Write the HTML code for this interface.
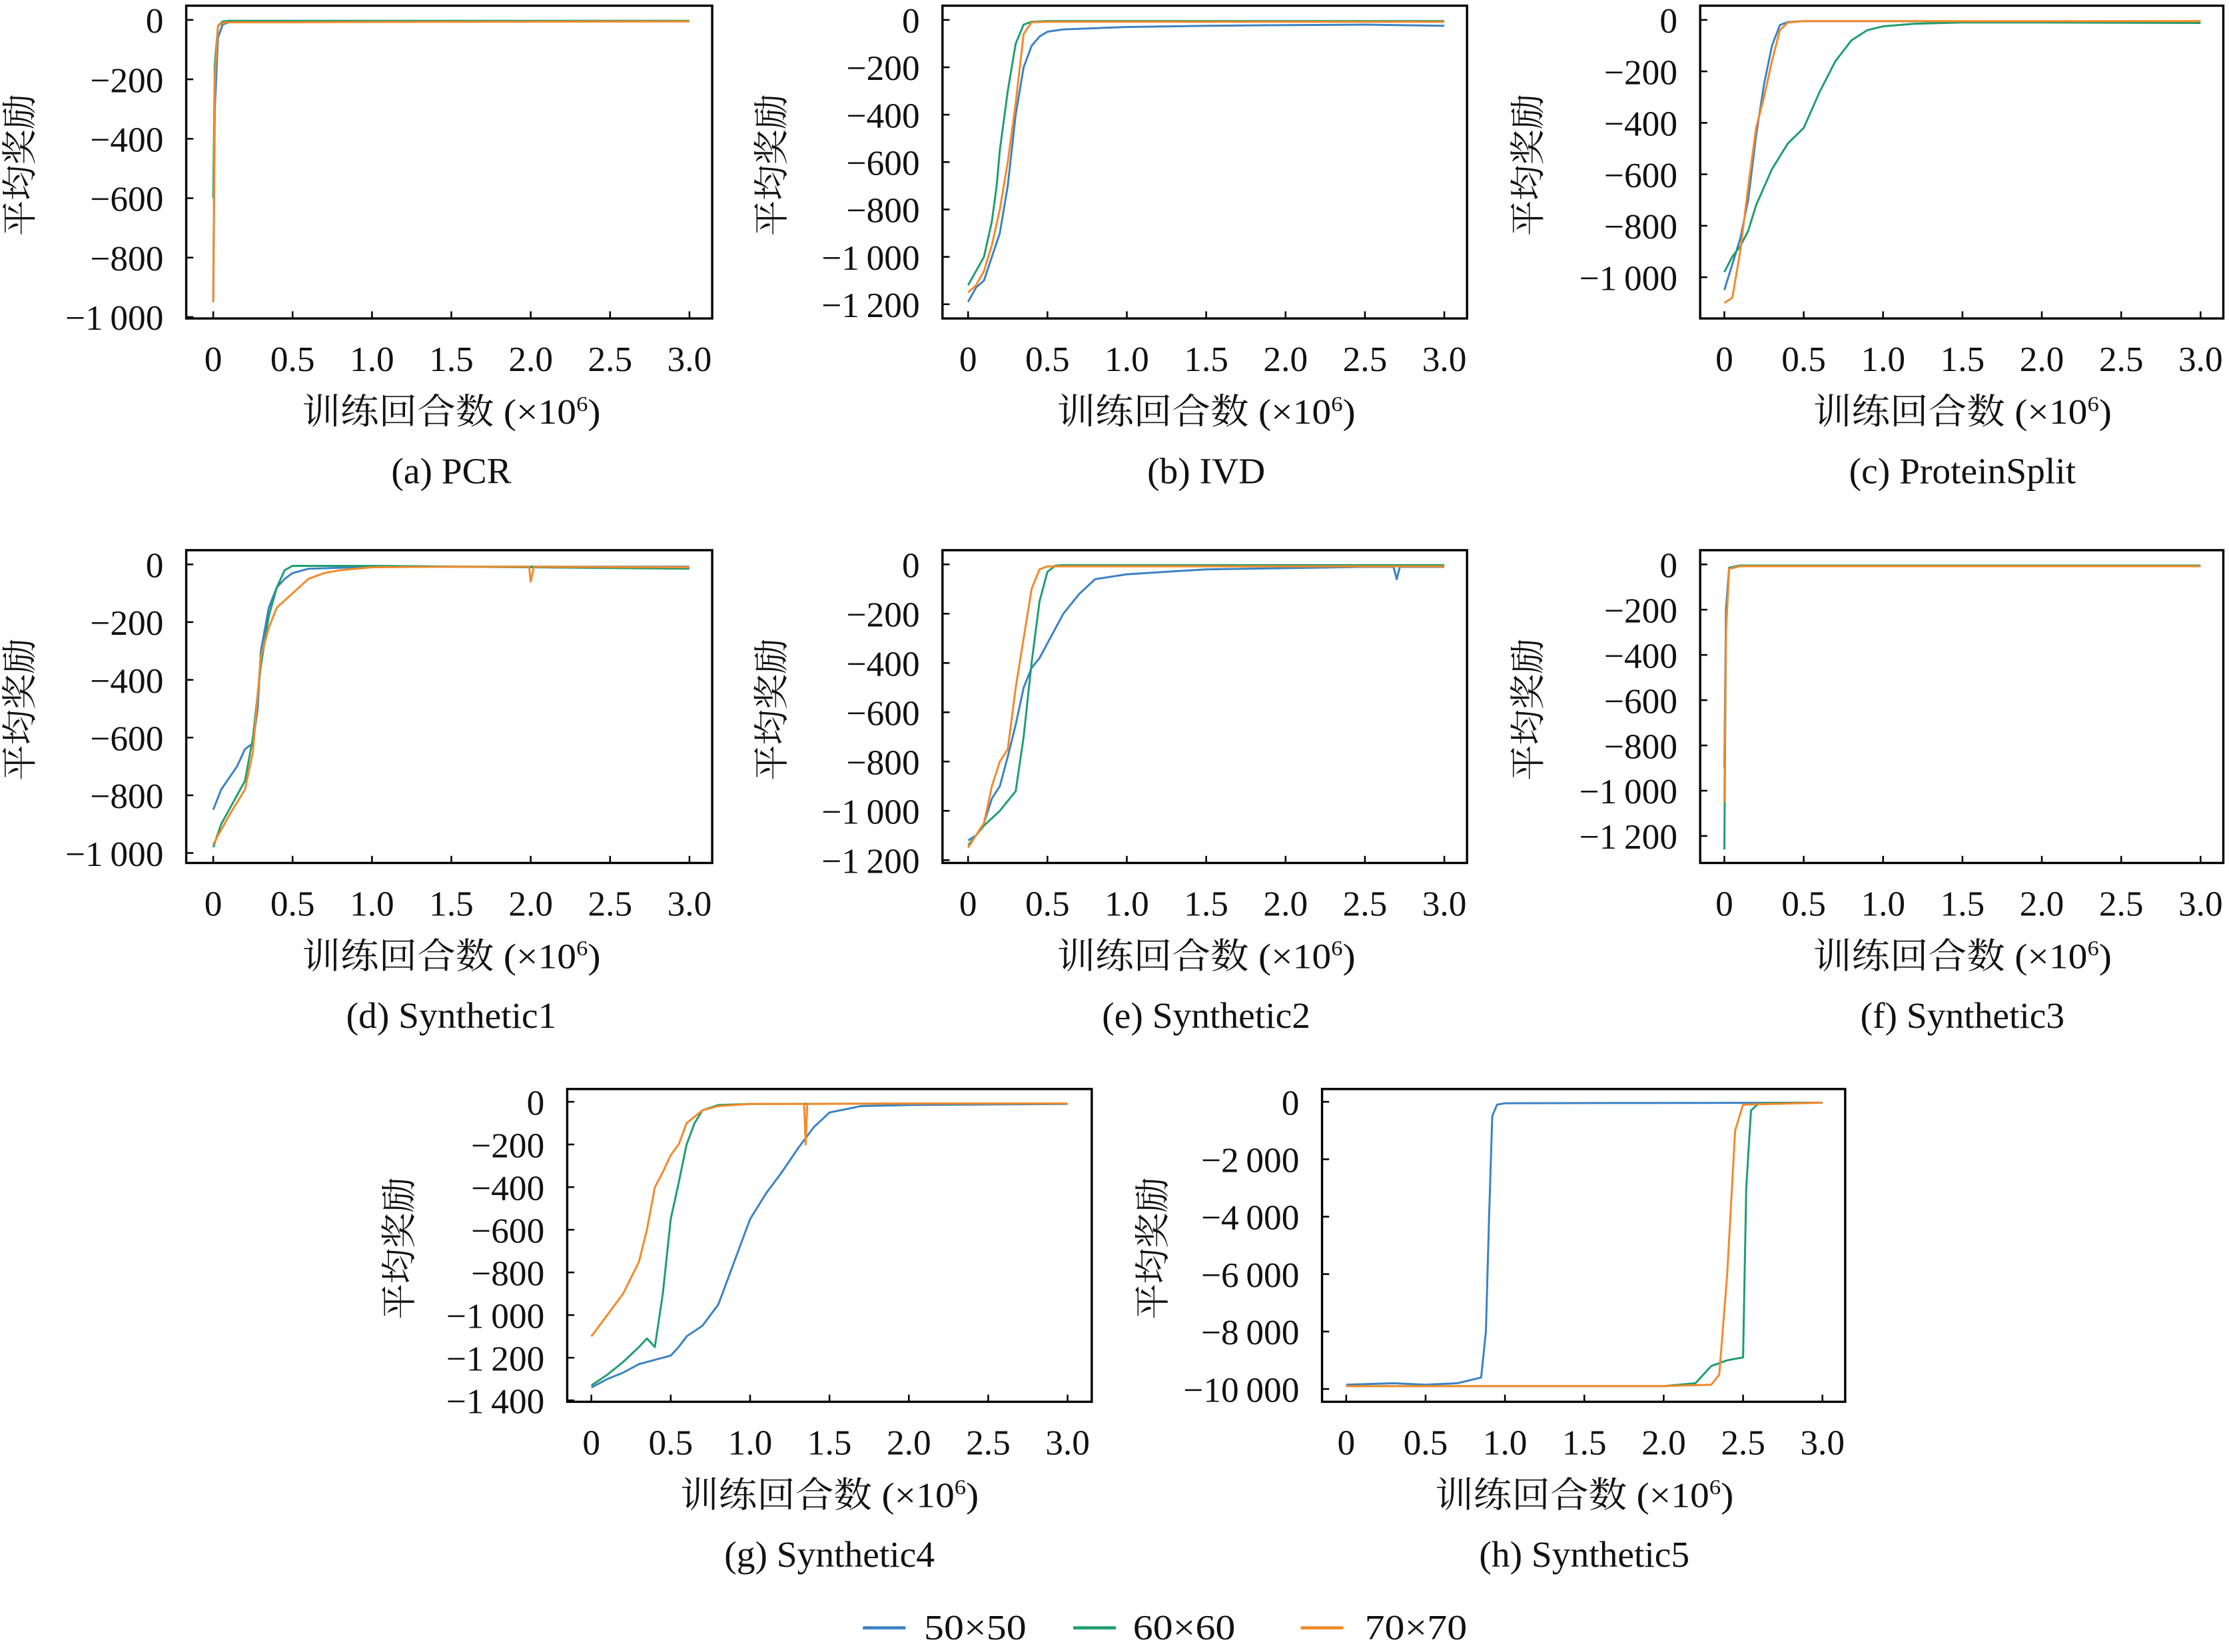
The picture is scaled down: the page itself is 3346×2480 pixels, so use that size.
<!DOCTYPE html>
<html><head><meta charset="utf-8"><style>
html,body{margin:0;padding:0;background:#fff;}
svg{display:block;}
text{font-family:"Liberation Serif","Noto Serif CJK SC",serif;fill:#111;}
</style></head><body>
<svg id="fig" width="3346" height="2480" viewBox="0 0 1568 1162" preserveAspectRatio="none" xmlns="http://www.w3.org/2000/svg">
<rect width="1568" height="1162" fill="#fff"/>
<g id="legend">
<g><line x1="607" y1="1145" x2="637" y2="1145" stroke="#3b82c4" stroke-width="2.2"/><text x="650" y="1153" font-size="25" textLength="72" lengthAdjust="spacingAndGlyphs">50×50</text></g>
<g><line x1="755" y1="1145" x2="785" y2="1145" stroke="#1f9e6e" stroke-width="2.2"/><text x="797" y="1153" font-size="25" textLength="72" lengthAdjust="spacingAndGlyphs">60×60</text></g>
<g><line x1="915" y1="1145" x2="945" y2="1145" stroke="#f28a2a" stroke-width="2.2"/><text x="960" y="1153" font-size="25" textLength="72" lengthAdjust="spacingAndGlyphs">70×70</text></g>
</g>
</svg>
<script>
const xTicks=[0,0.5,1.0,1.5,2.0,2.5,3.0];
const xTickLabels=["0","0.5","1.0","1.5","2.0","2.5","3.0"];
const captions=["(a) PCR","(b) IVD","(c) ProteinSplit","(d) Synthetic1","(e) Synthetic2","(f) Synthetic3","(g) Synthetic4","(h) Synthetic5"];
const yMins=[-1000,-1200,-1000,-1000,-1200,-1200,-1400,-10000];
const ySteps=[200,200,200,200,200,200,200,2000];
const aBx=[0,0.01,0.03,0.06,0.1,0.5,1,2,3], aBy=[-950,-300,-60,-15,-8,-6,-5,-5,-5];
const aGx=[0,0.01,0.03,0.06,0.1,0.5,1,2,3], aGy=[-600,-150,-20,-5,-3,-3,-3,-3,-3];
const aOx=[0,0.01,0.03,0.06,0.1,0.5,1,2,3], aOy=[-950,-200,-20,-10,-8,-8,-7,-6,-5];
const bBx=[0,0.05,0.1,0.15,0.2,0.25,0.3,0.35,0.4,0.45,0.5,0.6,0.8,1.0,1.5,2,2.5,3], bBy=[-1190,-1130,-1100,-1000,-900,-700,-400,-200,-110,-70,-50,-40,-35,-30,-25,-22,-20,-25];
const bGx=[0,0.05,0.1,0.15,0.18,0.2,0.25,0.3,0.35,0.4,0.5,1,3], bGy=[-1120,-1060,-1000,-850,-700,-550,-300,-100,-20,-8,-5,-5,-5];
const bOx=[0,0.05,0.1,0.15,0.2,0.25,0.3,0.35,0.4,0.5,1,3], bOy=[-1150,-1120,-1060,-950,-800,-600,-350,-60,-10,-8,-8,-8];
const cBx=[0,0.05,0.1,0.15,0.2,0.25,0.3,0.35,0.4,0.5,1,3], cBy=[-1050,-950,-850,-700,-450,-250,-100,-20,-8,-5,-5,-8];
const cGx=[0,0.05,0.1,0.15,0.2,0.3,0.4,0.5,0.6,0.7,0.8,0.9,1.0,1.2,1.5,2,3], cGy=[-980,-920,-880,-820,-720,-580,-480,-420,-280,-160,-80,-40,-25,-15,-10,-10,-12];
const cOx=[0,0.05,0.1,0.15,0.2,0.25,0.3,0.35,0.4,0.5,1,3], cOy=[-1100,-1080,-900,-650,-420,-300,-160,-40,-10,-5,-5,-5];
const dBx=[0,0.05,0.1,0.15,0.2,0.25,0.28,0.3,0.35,0.4,0.45,0.5,0.6,1,2,3], dBy=[-850,-780,-740,-700,-640,-620,-500,-300,-150,-80,-50,-30,-15,-8,-8,-8];
const dGx=[0,0.05,0.1,0.2,0.25,0.3,0.35,0.4,0.45,0.5,0.6,1,3], dGy=[-980,-900,-850,-750,-600,-350,-180,-80,-20,-5,-5,-5,-15];
const dOx=[0,0.05,0.1,0.2,0.25,0.3,0.35,0.4,0.5,0.6,0.7,0.8,1,1.5,1.99,2.0,2.02,3], dOy=[-970,-920,-870,-780,-650,-320,-220,-150,-100,-50,-30,-20,-10,-8,-8,-60,-8,-10];
const eBx=[0,0.05,0.1,0.15,0.2,0.25,0.3,0.35,0.4,0.45,0.5,0.6,0.7,0.8,1,1.5,2,2.5,2.68,2.7,2.72,3], eBy=[-1120,-1100,-1050,-950,-900,-780,-650,-500,-420,-380,-320,-200,-120,-60,-40,-20,-15,-10,-10,-60,-10,-10];
const eGx=[0,0.05,0.1,0.2,0.3,0.35,0.4,0.45,0.5,0.55,0.6,1,3], eGy=[-1140,-1100,-1060,-1000,-920,-700,-400,-150,-30,-5,-3,-3,-3];
const eOx=[0,0.05,0.1,0.15,0.2,0.25,0.3,0.35,0.4,0.45,0.5,1,3], eOy=[-1150,-1100,-1050,-900,-800,-750,-500,-300,-100,-20,-8,-8,-8];
const fBx=[0,0.01,0.03,0.1,3], fBy=[-900,-200,-15,-5,-5];
const fGx=[0,0.01,0.03,0.1,3], fGy=[-1260,-300,-15,-5,-5];
const fOx=[0,0.01,0.03,0.1,3], fOy=[-1050,-300,-20,-8,-8];
const gBx=[0,0.1,0.2,0.3,0.4,0.5,0.55,0.6,0.7,0.8,0.9,1.0,1.1,1.2,1.3,1.4,1.5,1.7,2,3], gBy=[-1340,-1300,-1270,-1230,-1210,-1190,-1150,-1100,-1050,-950,-750,-550,-430,-330,-220,-120,-50,-20,-15,-10];
const gGx=[0,0.1,0.2,0.3,0.35,0.4,0.45,0.5,0.55,0.6,0.65,0.7,0.8,1,2,3], gGy=[-1330,-1280,-1220,-1150,-1110,-1150,-900,-550,-380,-200,-100,-40,-15,-10,-8,-8];
const gOx=[0,0.1,0.2,0.3,0.35,0.4,0.45,0.5,0.55,0.6,0.7,0.8,1,1.34,1.35,1.36,2,3], gOy=[-1100,-1000,-900,-750,-600,-400,-330,-250,-200,-100,-40,-20,-10,-10,-200,-10,-8,-8];
const hBx=[0,0.3,0.5,0.7,0.85,0.88,0.9,0.92,0.95,1.0,3], hBy=[-9850,-9800,-9850,-9800,-9600,-8000,-4000,-500,-100,-50,-30];
const hGx=[0,1,2,2.2,2.3,2.4,2.5,2.52,2.55,2.6,3], hGy=[-9900,-9900,-9900,-9800,-9200,-9000,-8900,-3000,-300,-50,-30];
const hOx=[0,1,2,2.3,2.35,2.4,2.45,2.5,3], hOy=[-9900,-9900,-9900,-9850,-9500,-6000,-1000,-100,-30];
const seriesX=[[aBx,aGx,aOx],[bBx,bGx,bOx],[cBx,cGx,cOx],[dBx,dGx,dOx],[eBx,eGx,eOx],[fBx,fGx,fOx],[gBx,gGx,gOx],[hBx,hGx,hOx]];
const seriesY=[[aBy,aGy,aOy],[bBy,bGy,bOy],[cBy,cGy,cOy],[dBy,dGy,dOy],[eBy,eGy,eOy],[fBy,fGy,fOy],[gBy,gGy,gOy],[hBy,hGy,hOy]];
const colors=["#3b82c4","#1f9e6e","#f28a2a"];
const seriesNames=["50x50","60x60","70x70"];
const L=[
 [131,501,4,224,150,485,14,223],
 [663,1032,4,224,681,1016,14,214],
 [1196,1564,4,224,1213,1548,14,195],
 [131,501,387,607,150,485,397,600],
 [663,1032,387,607,681,1016,397,605],
 [1196,1564,387,607,1213,1548,397,588],
 [399,768,766,986,416,751,775,985],
 [930,1298,766,986,947,1282,775,977]
];
const NS="http://www.w3.org/2000/svg";
const svg=document.getElementById('fig');
function mk(tag,attrs,parent){const e=document.createElementNS(NS,tag);for(const k in attrs)e.setAttribute(k,attrs[k]);parent.appendChild(e);return e;}
function fmt(v){if(v===0)return "0";let s=String(Math.abs(v));if(s.length>3)s=s.slice(0,s.length-3)+"\u2009"+s.slice(s.length-3);return "\u2212"+s;}
for(let p=0;p<8;p++){
 const [fl,fr,ft,fb,x0,x3,y0,y1]=L[p];
 const xs=v=>x0+(x3-x0)*v/3;
 const ys=v=>y0+(y1-y0)*v/yMins[p];
 const g=mk('g',{},svg);
 
 
 const clipId='clip'+p;
 const cp=mk('clipPath',{id:clipId},g);mk('rect',{x:fl,y:ft,width:fr-fl,height:fb-ft},cp);
 const sg=mk('g',{'clip-path':'url(#'+clipId+')'},g);
 for(let s=0;s<3;s++){
  const X=seriesX[p][s],Y=seriesY[p][s];
  let d="";for(let i=0;i<X.length;i++)d+=(i?"L":"M")+xs(X[i]).toFixed(2)+","+ys(Y[i]).toFixed(2);
  const path=mk('path',{d:d,fill:'none',stroke:colors[s],'stroke-width':1.4,'stroke-linejoin':'round'},sg);
  
  
 }
 const fr_=mk('rect',{x:fl,y:ft,width:fr-fl,height:fb-ft,fill:'none',stroke:'#000','stroke-width':1.6},g);
 
 
 for(let i=0;i<xTicks.length;i++){
  const x=xs(xTicks[i]);
  mk('line',{x1:x,y1:fb,x2:x,y2:fb-5,stroke:'#000','stroke-width':1.2},g);
  const t=mk('text',{x:x,y:fb+37,'text-anchor':'middle','font-size':25},g);
  t.textContent=xTickLabels[i];
  
  
 }
 for(let v=0;v>=yMins[p];v-=ySteps[p]){
  const y=ys(v);
  mk('line',{x1:fl,y1:y,x2:fl+5,y2:y,stroke:'#000','stroke-width':1.2},g);
  const t=mk('text',{x:fl-16,y:y+9,'text-anchor':'end','font-size':25},g);
  t.textContent=fmt(v);
  
  
 }
 const cx=(x0+x3)/2;
 const xt=mk('text',{x:cx,y:fb+74,'text-anchor':'middle','font-size':25,textLength:210,lengthAdjust:'spacingAndGlyphs'},g);
 xt.innerHTML='训练回合数 (×10<tspan font-size="15" dy="-9">6</tspan><tspan dy="9">)</tspan>';
 
 
 const cap=mk('text',{x:cx,y:fb+116,'text-anchor':'middle','font-size':26},g);
 cap.textContent=captions[p];
 
 
 const ytx=[14,543,1075,14,543,1075,281,811][p];
 const ycy=(ft+fb)/2+2;
 const yt=mk('text',{x:ytx,y:ycy,'text-anchor':'middle','font-size':25,transform:'rotate(-90 '+(ytx)+' '+ycy+')','dominant-baseline':'central'},g);
 yt.textContent='平均奖励';
 
 
}
</script>
</body></html>
